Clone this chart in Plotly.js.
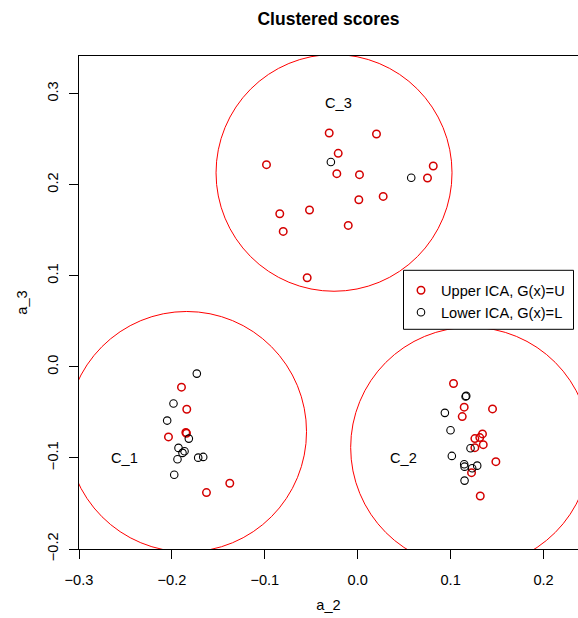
<!DOCTYPE html>
<html>
<head>
<meta charset="utf-8">
<script src="https://cdn.plot.ly/plotly-3.0.1.min.js"></script>
<style>
html, body { margin: 0; padding: 0; overflow: hidden; background: #fff; }
#chart { width: 578px; height: 618px; }
</style>
</head>
<body>
<div id="chart"></div>
<script>
// Upper ICA, G(x)=U  (red points)
const upperX = [-0.0307, 0.0202, -0.0210, -0.0982, -0.0225, 0.0019, 0.0813, 0.0751, 0.0274, 0.0012, -0.0519, -0.0839, -0.0802, -0.0102, -0.0544,
                -0.1897, -0.1840, -0.1843, -0.1850, -0.2037, -0.1377, -0.1628,
                0.1031, 0.1146, 0.1451, 0.1125, 0.1343, 0.1261, 0.1314, 0.1351, 0.1261, 0.1487, 0.1225, 0.1319];
const upperY = [0.2568, 0.2557, 0.2344, 0.2220, 0.2121, 0.2110, 0.2205, 0.2073, 0.1871, 0.1835, 0.1722, 0.1681, 0.1487, 0.1553, 0.0978,
                -0.0223, -0.0465, -0.0729, -0.0720, -0.0769, -0.1278, -0.1381,
                -0.0183, -0.0443, -0.0462, -0.0546, -0.0736, -0.0788, -0.0777, -0.0854, -0.0887, -0.1041, -0.1162, -0.1418];

// Lower ICA, G(x)=L  (black points)
const lowerX = [-0.0289, 0.0576,
                -0.1732, -0.1983, -0.2051, -0.1818, -0.1929, -0.1864, -0.1886, -0.1940, -0.1717, -0.1663, -0.1975,
                0.1168, 0.1161, 0.0938, 0.0999, 0.1214, 0.1013, 0.1146, 0.1150, 0.1286, 0.1232, 0.1150];
const lowerY = [0.2249, 0.2077,
                -0.0074, -0.0403, -0.0590, -0.0788, -0.0890, -0.0926, -0.0945, -0.1014, -0.0997, -0.0989, -0.1184,
                -0.0319, -0.0326, -0.0505, -0.0696, -0.0893, -0.0978, -0.1069, -0.1096, -0.1085, -0.1113, -0.1249];

// Clusters
const clusterNames = ["C_1", "C_2", "C_3"];
const clusterCX = [-0.1841, 0.1214, -0.0255];
const clusterCY = [-0.0712, -0.0885, 0.2130];
const clusterRX = [0.129, 0.129, 0.127];
const clusterRY = [0.132, 0.132, 0.130];
const labelX = [-0.2507, 0.0496, -0.0207];
const labelY = [-0.1003, -0.1003, 0.2900];

const tickVals = [-0.3, -0.2, -0.1, 0.0, 0.1, 0.2, 0.3];

const FONT = "Liberation Sans, Arial, sans-serif";
const FS = 14.6;

// plot area in pixels (for paper-coordinate placement)
const PL = 79, PR = 578, PT = 55.7, PB = 548.7;
const px2paperX = p => (p - PL) / (PR - PL);
const px2paperY = p => (PB - p) / (PB - PT);

const traces = [
  {
    x: upperX, y: upperY, type: "scatter", mode: "markers",
    name: "Upper ICA, G(x)=U",
    marker: { symbol: "circle-open", size: 7.5, color: "#D40000", line: { width: 1.5, color: "#D40000" } }
  },
  {
    x: lowerX, y: lowerY, type: "scatter", mode: "markers",
    name: "Lower ICA, G(x)=L",
    marker: { symbol: "circle-open", size: 7.5, color: "#000000", line: { width: 1.1, color: "#000000" } }
  }
];

const shapes = clusterNames.map((n, i) => ({
  type: "circle", xref: "x", yref: "y",
  x0: clusterCX[i] - clusterRX[i], x1: clusterCX[i] + clusterRX[i],
  y0: clusterCY[i] - clusterRY[i], y1: clusterCY[i] + clusterRY[i],
  line: { color: "#FF0000", width: 1 }, layer: "below"
}));
// legend frame
shapes.push({
  type: "rect", xref: "paper", yref: "paper",
  x0: px2paperX(403.5), x1: px2paperX(573.5), y0: px2paperY(329), y1: px2paperY(270),
  line: { color: "#000", width: 1 }, fillcolor: "#fff", layer: "above"
});

const annotations = clusterNames.map((n, i) => ({
  x: labelX[i], y: labelY[i], xref: "x", yref: "y", text: n, showarrow: false,
  font: { family: FONT, size: FS, color: "#000" }, xanchor: "center", yanchor: "middle"
}));

const layout = {
  width: 578, height: 618,
  margin: { l: 79, r: 0, t: 56, b: 69, pad: 0 },
  paper_bgcolor: "#fff", plot_bgcolor: "#fff",
  font: { family: FONT, size: FS, color: "#000" },
  title: {
    text: "Clustered scores",
    font: { family: FONT, size: 17.5, weight: 700, color: "#000" },
    x: 0.5, xref: "paper", xanchor: "center",
    y: 1 - 19 / 618, yref: "container", yanchor: "middle"
  },
  xaxis: {
    range: [-0.3, 0.2371], tickvals: tickVals, tickformat: ".1f",
    showline: true, linecolor: "#000", linewidth: 1, mirror: true,
    ticks: "outside", ticklen: 9, tickcolor: "#000", tickwidth: 1,
    showgrid: false, zeroline: false, ticklabelstandoff: 8,
    tickfont: { family: FONT, size: FS, color: "#000" },
    title: { text: "a_2", standoff: 13, font: { family: FONT, size: FS, color: "#000" } },
    automargin: false
  },
  yaxis: {
    range: [-0.2, 0.3413], tickvals: tickVals, tickformat: ".1f", tickangle: -90,
    showline: true, linecolor: "#000", linewidth: 1, mirror: false,
    ticks: "outside", ticklen: 9, tickcolor: "#000", tickwidth: 1,
    showgrid: false, zeroline: false, ticklabelstandoff: 5,
    tickfont: { family: FONT, size: FS, color: "#000" },
    title: { text: "a_3", standoff: 14, font: { family: FONT, size: FS, color: "#000" } },
    automargin: false
  },
  legend: {
    x: px2paperX(401), y: px2paperY(274), xanchor: "left", yanchor: "top",
    xref: "paper", yref: "paper",
    bgcolor: "rgba(0,0,0,0)", borderwidth: 0,
    font: { family: FONT, size: FS, color: "#000" },
    itemclick: false
  },
  showlegend: true,
  shapes: shapes,
  annotations: annotations
};

Plotly.newPlot("chart", traces, layout, { staticPlot: true, displayModeBar: false });
</script>
</body>
</html>
